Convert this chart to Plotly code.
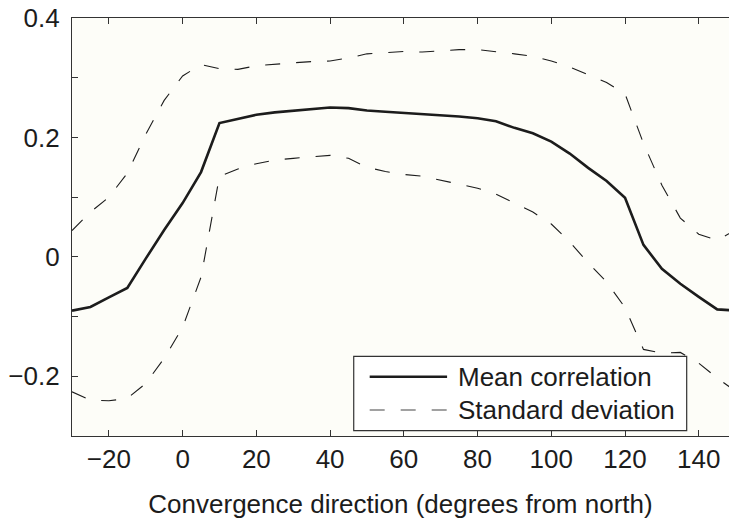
import plotly.graph_objects as go

direction = [-30, -25, -20, -15, -10, -5, 0, 5, 10, 15, 20, 25, 30, 35, 40, 45, 50, 55, 60, 65,
             70, 75, 80, 85, 90, 95, 100, 105, 110, 115, 120, 125, 130, 135, 140, 145, 150]

mean_corr = [-0.090, -0.084, -0.068, -0.052, -0.003, 0.045, 0.090, 0.142, 0.224, 0.231,
             0.238, 0.242, 0.245, 0.248, 0.250, 0.249, 0.245, 0.243, 0.241, 0.240,
             0.237, 0.235, 0.232, 0.227, 0.216, 0.207, 0.193, 0.173, 0.149, 0.127,
             0.099, 0.020, -0.020, -0.045, -0.067, -0.088, -0.090]

std_upper = [0.044, 0.075, 0.100, 0.140, 0.205, 0.262, 0.303, 0.322, 0.315, 0.314,
             0.320, 0.323, 0.325, 0.327, 0.328, 0.333, 0.340, 0.342, 0.344, 0.343,
             0.345, 0.347, 0.347, 0.344, 0.340, 0.336, 0.328, 0.318, 0.305, 0.292,
             0.273, 0.190, 0.120, 0.065, 0.038, 0.028, 0.045]

std_lower = [-0.226, -0.240, -0.241, -0.237, -0.212, -0.170, -0.118, -0.034, 0.135, 0.147,
             0.156, 0.162, 0.165, 0.168, 0.170, 0.165, 0.150, 0.143, 0.138, 0.135,
             0.128, 0.121, 0.115, 0.105, 0.090, 0.075, 0.055, 0.025, -0.010, -0.042,
             -0.085, -0.155, -0.161, -0.160, -0.178, -0.203, -0.225]

x_ticks = [-20, 0, 20, 40, 60, 80, 100, 120, 140]
x_tick_text = ["\u221220", "0", "20", "40", "60", "80", "100", "120", "140"]
y_ticks = [-0.3, -0.2, -0.1, 0, 0.1, 0.2, 0.3, 0.4]
y_tick_text = ["", "\u22120.2", "", "0", "", "0.2", "", "0.4"]

legend_labels = ["Mean correlation", "Standard deviation"]
x_title = "Convergence direction (degrees from north)"

FONT = "Liberation Sans, Arial, Helvetica, sans-serif"
FS = 26
INK = "#1c1c1c"
DASH = "15px,16px"

fig = go.Figure()
fig.add_trace(go.Scatter(x=direction, y=std_upper, mode="lines",
                         line=dict(color=INK, width=1.1, dash=DASH), showlegend=False))
fig.add_trace(go.Scatter(x=direction, y=std_lower, mode="lines",
                         line=dict(color=INK, width=1.1, dash=DASH), showlegend=False))
fig.add_trace(go.Scatter(x=direction, y=mean_corr, mode="lines",
                         line=dict(color=INK, width=2.6), showlegend=False))

# Custom legend box (paper coordinates)
fig.add_shape(type="rect", xref="paper", yref="paper", x0=0.4288, x1=0.9356, y0=0.0127, y1=0.1907,
              line=dict(color="#333333", width=1.2), fillcolor="#ffffff", layer="above")
fig.add_shape(type="line", xref="paper", yref="paper", x0=0.4531, x1=0.5709, y0=0.1419, y1=0.1419,
              line=dict(color=INK, width=2.6), layer="above")
fig.add_shape(type="line", xref="paper", yref="paper", x0=0.4531, x1=0.5709, y0=0.0622, y1=0.0622,
              line=dict(color="#444444", width=1.1, dash=DASH), layer="above")
for lab, yy in zip(legend_labels, [0.1419, 0.0622]):
    fig.add_annotation(xref="paper", yref="paper", x=0.5845, y=yy, text=lab, showarrow=False,
                       xanchor="left", yanchor="middle", font=dict(family=FONT, size=FS, color=INK))

fig.update_layout(
    width=729, height=521,
    margin=dict(l=72, r=0, t=18, b=85),
    paper_bgcolor="white",
    plot_bgcolor="#fdfdf8",
    font=dict(family=FONT, size=FS, color=INK),
    xaxis=dict(range=[-30, 148.2], tickvals=x_ticks, ticktext=x_tick_text,
               ticks="inside", ticklen=6, tickwidth=1.2, tickcolor="#333333",
               showline=True, linecolor="#333333", linewidth=1.3, mirror="ticks",
               showgrid=False, zeroline=False,
               title=dict(text=x_title, standoff=21, font=dict(size=FS))),
    yaxis=dict(range=[-0.3, 0.4], tickvals=y_ticks, ticktext=y_tick_text,
               ticks="inside", ticklen=6, tickwidth=1.2, tickcolor="#333333",
               showline=True, linecolor="#333333", linewidth=1.3, mirror=False,
               showgrid=False, zeroline=False, ticklabelstandoff=6),
)

fig.write_html("out.html", config={"displayModeBar": False},
               post_script="document.body.style.margin='0';document.body.style.overflow='hidden';")
